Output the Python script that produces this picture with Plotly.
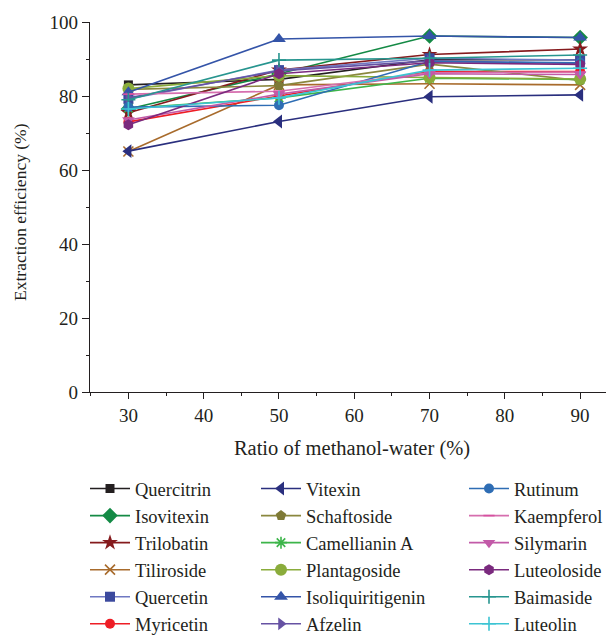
import plotly.graph_objects as go

ratio = [30, 50, 70, 90]

names = ["Quercitrin", "Isovitexin", "Trilobatin", "Tiliroside", "Quercetin", "Myricetin",
         "Vitexin", "Schaftoside", "Camellianin A", "Plantagoside", "Isoliquiritigenin", "Afzelin",
         "Rutinum", "Kaempferol", "Silymarin", "Luteoloside", "Baimaside", "Luteolin"]

quercitrin = [83.0, 84.5, 89.8, 89.8]
isovitexin = [76.5, 86.0, 96.2, 95.8]
trilobatin = [75.5, 87.0, 91.2, 92.7]
tiliroside = [65.0, 83.0, 83.3, 83.0]
quercetin = [79.2, 87.0, 90.2, 89.7]
myricetin = [73.0, 80.0, 86.6, 86.6]
vitexin = [65.1, 73.1, 79.8, 80.3]
schaftoside = [81.8, 82.8, 88.6, 84.2]
camellianin_a = [76.7, 79.5, 84.8, 84.5]
plantagoside = [82.0, 85.5, 85.0, 84.6]
isoliquiritigenin = [81.0, 95.4, 96.2, 95.8]
afzelin = [79.5, 86.8, 89.5, 88.8]
rutinum = [77.0, 77.5, 89.3, 89.0]
kaempferol = [80.5, 81.3, 86.3, 86.5]
silymarin = [73.5, 80.5, 86.0, 85.8]
luteoloside = [72.2, 86.0, 89.0, 88.5]
baimaside = [79.0, 89.7, 90.2, 91.1]
luteolin = [76.5, 79.5, 87.0, 87.5]

series = [quercitrin, isovitexin, trilobatin, tiliroside, quercetin, myricetin,
          vitexin, schaftoside, camellianin_a, plantagoside, isoliquiritigenin, afzelin,
          rutinum, kaempferol, silymarin, luteoloside, baimaside, luteolin]

styles = [
    ("#231f20", "square", 9, "#231f20"),
    ("#148a45", "diamond", 12, "#148a45"),
    ("#851a1d", "star", 12, "#851a1d"),
    ("#a86b2c", "x-thin-open", 10, "#a86b2c"),
    ("#3c4a9e", "square", 10, "#6f78c2"),
    ("#ee1d25", "circle", 10, "#ee1d25"),
    ("#2a2f7e", "triangle-left", 12, "#2a2f7e"),
    ("#7e7a36", "pentagon", 11, "#8a873e"),
    ("#3db54a", "asterisk-open", 10, "#3db54a"),
    ("#8aac3b", "circle", 12, "#8aac3b"),
    ("#3454a8", "triangle-up", 12, "#3454a8"),
    ("#6652a3", "triangle-right", 11, "#6652a3"),
    ("#2e6db4", "circle-dot", 10, "#2e6db4"),
    ("#d7509f", "line-ew-open", 8, "#d66eae"),
    ("#c25aa8", "triangle-down", 11, "#c25aa8"),
    ("#7a2a7e", "hexagon", 11, "#7a2a7e"),
    ("#27958f", "cross-thin-open", 10, "#27958f"),
    ("#3cc4d3", "cross-thin-open", 10, "#3cc4d3"),
]

legend_ids = ["legend"] * 6 + ["legend2"] * 6 + ["legend3"] * 6

fig = go.Figure()
for i, (nm, ys, st) in enumerate(zip(names, series, styles)):
    mcol, sym, size, lcol = st
    open_sym = sym.endswith("-open")
    fig.add_trace(go.Scatter(
        x=ratio, y=ys, name=nm, mode="lines+markers",
        line=dict(color=lcol, width=1.6),
        marker=dict(symbol=sym, size=size, color=mcol,
                    line=dict(color=mcol if open_sym else "rgba(0,0,0,0)", width=1.6 if open_sym else 0)),
        legend=legend_ids[i], legendgroup=nm,
    ))

# page body has an 8px margin, so the figure is 8px smaller and everything is offset by 8px
W, H = 606, 627
L, T, B = 82, 14, 243
font = "Liberation Serif, Times New Roman, serif"
leg_common = dict(yanchor="top", xanchor="left", xref="container", yref="container",
                  bgcolor="rgba(0,0,0,0)",
                  font=dict(family=font, size=18.5, color="#231f20"),
                  tracegroupgap=0, traceorder="grouped", itemwidth=40)
leg_y = 1 - 462 / H

fig.update_layout(
    width=W, height=H,
    margin=dict(l=L, r=0, t=T, b=B, autoexpand=False),
    plot_bgcolor="white", paper_bgcolor="white",
    font=dict(family=font, size=18, color="#231f20"),
    showlegend=True,
    legend=dict(x=77 / W, y=leg_y, **leg_common),
    legend2=dict(x=248 / W, y=leg_y, **leg_common),
    legend3=dict(x=456 / W, y=leg_y, **leg_common),
    xaxis=dict(range=[24.9, 94.5], tickvals=[30, 40, 50, 60, 70, 80, 90],
               showline=True, linecolor="#231f20", linewidth=1.2, mirror=False,
               ticks="outside", ticklen=6, tickcolor="#231f20", tickwidth=1.2,
               minor=dict(dtick=5, tick0=25, ticks="outside", ticklen=3, tickcolor="#231f20", tickwidth=1.2),
               showgrid=False, zeroline=False,
               tickfont=dict(family=font, size=19),
               title=dict(text="Ratio of methanol-water (%)", font=dict(family=font, size=20.5), standoff=15)),
    yaxis=dict(range=[0, 100], tickvals=[0, 20, 40, 60, 80, 100],
               showline=True, linecolor="#231f20", linewidth=1.2,
               ticks="outside", ticklen=7, tickcolor="#231f20", tickwidth=1.2,
               minor=dict(dtick=10, tick0=0, ticks="outside", ticklen=3, tickcolor="#231f20", tickwidth=1.2),
               showgrid=False, zeroline=False,
               tickfont=dict(family=font, size=19)),
    annotations=[dict(text="Extraction efficiency (%)", textangle=-90, showarrow=False,
                      xref="paper", yref="paper",
                      x=(12 - L) / (W - L), y=1 - (204 - T) / (H - T - B),
                      xanchor="center", yanchor="middle",
                      font=dict(family=font, size=17.5, color="#231f20"))],
)

fig.write_html("out.html")
